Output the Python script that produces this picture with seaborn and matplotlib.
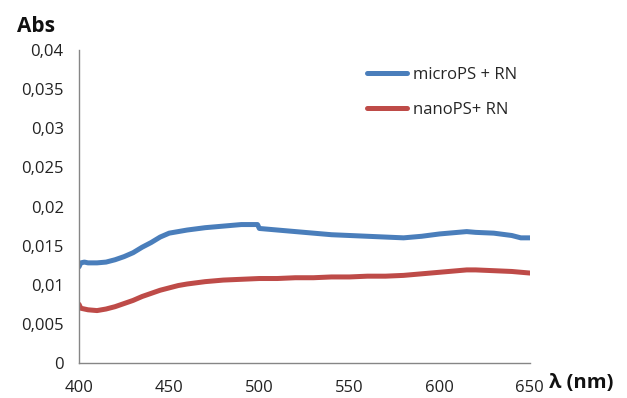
import matplotlib
matplotlib.use("Agg")
import matplotlib.pyplot as plt
import seaborn as sns
import pandas as pd
from matplotlib.lines import Line2D

wl_micro = [400, 401, 403, 405, 410, 415, 420, 425, 430, 435, 440, 445, 450, 455, 460, 470, 480, 490, 499, 500,
            510, 520, 530, 540, 550, 560, 570, 580, 590, 600, 610, 615, 620, 630, 640, 645, 650]
abs_micro = [0.0123, 0.0128, 0.0129, 0.0128, 0.0128, 0.0129, 0.0132, 0.0136, 0.0141, 0.0148, 0.0154, 0.0161, 0.0166, 0.0168,
             0.0170, 0.0173, 0.0175, 0.0177, 0.0177, 0.0172, 0.0170, 0.0168, 0.0166, 0.0164, 0.0163, 0.0162, 0.0161, 0.0160,
             0.0162, 0.0165, 0.0167, 0.0168, 0.0167, 0.0166, 0.0163, 0.0160, 0.0160]

wl_nano = [400, 401, 403, 405, 410, 415, 420, 425, 430, 435, 440, 445, 450, 455, 460, 470, 480, 490, 500,
           510, 520, 530, 540, 550, 560, 570, 580, 590, 600, 610, 615, 620, 630, 640, 650]
abs_nano = [0.0075, 0.0070, 0.0069, 0.0068, 0.0067, 0.0069, 0.0072, 0.0076, 0.0080, 0.0085, 0.0089, 0.0093, 0.0096, 0.0099,
            0.0101, 0.0104, 0.0106, 0.0107, 0.0108, 0.0108, 0.0109, 0.0109, 0.0110, 0.0110, 0.0111, 0.0111, 0.0112, 0.0114,
            0.0116, 0.0118, 0.0119, 0.0119, 0.0118, 0.0117, 0.0115]

series_names = ["microPS + RN", "nanoPS+ RN"]
y_ticks = [0, 0.005, 0.01, 0.015, 0.02, 0.025, 0.03, 0.035, 0.04]
y_tick_labels = ["0", "0,005", "0,01", "0,015", "0,02", "0,025", "0,03", "0,035", "0,04"]
x_ticks = [400, 450, 500, 550, 600, 650]
x_minor = [425, 475, 525, 575, 625]

df = pd.concat([
    pd.DataFrame({"wl": wl_micro, "abs": abs_micro, "sample": series_names[0]}),
    pd.DataFrame({"wl": wl_nano, "abs": abs_nano, "sample": series_names[1]}),
])

sns.set_style("white")
plt.rcParams["font.family"] = ["Open Sans", "DejaVu Sans"]

fig = plt.figure(figsize=(6.27, 3.98), dpi=100)
ax = fig.add_axes([0.126, 0.088, 0.719, 0.786])
palette = {series_names[0]: "#4A7EBB", series_names[1]: "#BE4B48"}
sns.lineplot(data=df, x="wl", y="abs", hue="sample", palette=palette, linewidth=3.6, ax=ax, legend=False)

ax.set_xlim(400, 650)
ax.set_ylim(0, 0.04)
ax.set_yticks(y_ticks)
ax.set_yticklabels(y_tick_labels)
ax.set_xticks(x_ticks)
ax.set_xticklabels([str(v) for v in x_ticks])
ax.set_xticks(x_minor, minor=True)
ax.tick_params(axis="both", which="both", direction="out", length=5, width=1, color="#868686",
               labelsize=12, labelcolor="#222222")
ax.tick_params(axis="x", which="major", pad=7)
ax.tick_params(axis="y", which="major", pad=6)
ax.set_xlabel("")
ax.set_ylabel("")
for s in ["top", "right"]:
    ax.spines[s].set_visible(False)
for s in ["left", "bottom"]:
    ax.spines[s].set_color("#868686")
    ax.spines[s].set_linewidth(1)

fig.text(0.027, 0.92, "Abs", fontsize=15, fontweight="bold", color="#111111")
fig.text(0.876, 0.025, "λ (nm)", fontsize=14.5, fontweight="bold", color="#111111")

handles = [Line2D([], [], color=palette[n], linewidth=3.6) for n in series_names]
ax.legend(handles, series_names, loc="upper left", bbox_to_anchor=(0.605, 0.995), frameon=False,
          fontsize=12, handlelength=2.4, handletextpad=0.35, labelspacing=1.15)

fig.savefig("out.png", dpi=100)
